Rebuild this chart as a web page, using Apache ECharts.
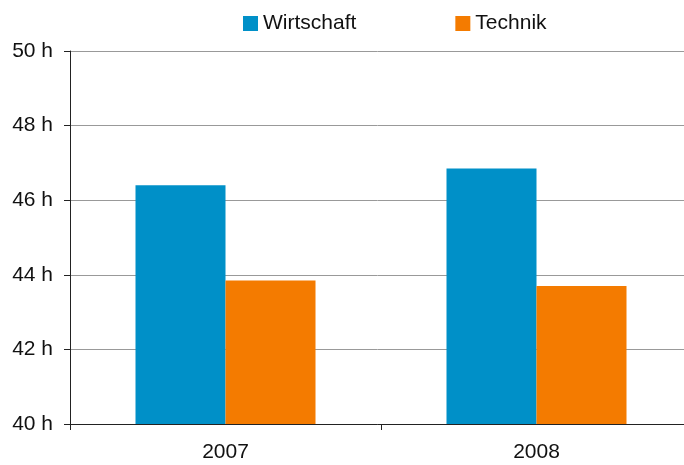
<!DOCTYPE html>
<html><head><meta charset="utf-8">
<script src="https://cdn.jsdelivr.net/npm/echarts@6/dist/echarts.min.js"></script>
<style>html,body{margin:0;padding:0;background:#fff;overflow:hidden}#c{width:684px;height:465px}</style>
</head><body><div id="c"></div>
<script>
const categories = ['2007', '2008'];
const wirtschaft = [46.4, 46.85];
const technik = [43.85, 43.7];
const seriesNames = ['Wirtschaft', 'Technik'];

const chart = echarts.init(document.getElementById('c'), null, {renderer: 'canvas'});
const font = 'Liberation Sans, Arial, sans-serif';
chart.setOption({
  animation: false,
  legend: {
    data: seriesNames,
    top: 8,
    left: 238,
    itemWidth: 15,
    itemHeight: 15,
    itemGap: 99,
    icon: 'rect',
    textStyle: {fontFamily: font, fontSize: 21, color: '#111'}
  },
  grid: {left: 70, width: 622, top: 51, height: 373, outerBoundsMode: 'none', containLabel: false},
  xAxis: {
    type: 'category',
    data: categories,
    axisLine: {lineStyle: {color: '#222', width: 1}},
    axisTick: {show: true, length: 6, lineStyle: {color: '#222'}},
    axisLabel: {fontFamily: font, fontSize: 21, color: '#111', margin: 18}
  },
  yAxis: {
    type: 'value',
    min: 40, max: 50, interval: 2,
    axisLine: {show: true, lineStyle: {color: '#222', width: 1}},
    axisTick: {show: true, length: 6, lineStyle: {color: '#222'}},
    axisLabel: {fontFamily: font, fontSize: 21, color: '#111', margin: 17, formatter: v => v + ' h'},
    splitLine: {show: true, lineStyle: {color: '#999', width: 1}}
  },
  series: [
    {name: seriesNames[0], type: 'bar', data: wirtschaft, itemStyle: {color: '#0090C8'}, barWidth: 90, barGap: '0%'},
    {name: seriesNames[1], type: 'bar', data: technik, itemStyle: {color: '#F47B00'}, barWidth: 90, barGap: '0%'}
  ]
});
</script></body></html>
